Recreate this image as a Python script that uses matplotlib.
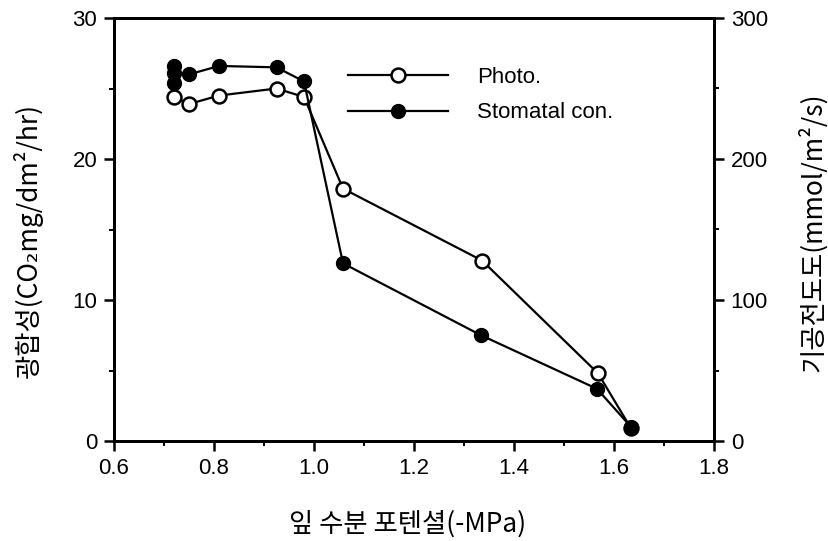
import matplotlib
matplotlib.use("Agg")
import matplotlib.pyplot as plt
from matplotlib.ticker import MultipleLocator
from matplotlib.lines import Line2D

# Leaf water potential (-MPa)
photo_x = [0.72, 0.75, 0.81, 0.925, 0.98, 1.058, 1.336, 1.568, 1.634]
# Photosynthesis (CO2 mg/dm2/hr)
photo_y = [24.4, 23.9, 24.5, 25.0, 24.4, 17.9, 12.8, 4.8, 0.9]

stoma_x = [0.72, 0.72, 0.72, 0.75, 0.81, 0.925, 0.98, 1.058, 1.334, 1.566, 1.634]
# Stomatal conductance (mmol/m2/s)
stoma_y = [254, 266, 261, 260, 266, 265, 255, 126, 75, 37, 10]

xticks = [0.6, 0.8, 1.0, 1.2, 1.4, 1.6, 1.8]
left_ticks = [0, 10, 20, 30]
right_ticks = [0, 100, 200, 300]

num_font = "Liberation Sans"
kor_font = ["Noto Sans CJK KR", "DejaVu Sans"]

fig = plt.figure(figsize=(8.29, 5.41), dpi=100)
ax = fig.add_axes([114 / 829, 1 - 441 / 541, 600 / 829, 423 / 541])
ax2 = ax.twinx()

ax.plot(photo_x, photo_y, color="black", lw=1.6, marker="o", ms=10,
        mfc="white", mec="black", mew=1.8, zorder=3)
ax2.plot(stoma_x, stoma_y, color="black", lw=1.6, marker="o", ms=10,
         mfc="black", mec="black", zorder=3)

ax.set_xlim(0.6, 1.8)
ax.set_ylim(0, 30)
ax2.set_ylim(0, 300)

ax.set_xticks(xticks)
ax.set_xticklabels([f"{v:.1f}" for v in xticks])
ax.xaxis.set_minor_locator(MultipleLocator(0.1))
ax.set_yticks(left_ticks)
ax.yaxis.set_minor_locator(MultipleLocator(5))
ax2.set_yticks(right_ticks)
ax2.yaxis.set_minor_locator(MultipleLocator(50))

for a in (ax, ax2):
    for s in a.spines.values():
        s.set_linewidth(2.0)
    a.tick_params(which="major", direction="out", length=7, width=1.8,
                  labelsize=16, pad=5)
    a.tick_params(which="minor", direction="out", length=3.5, width=1.4)
    for lab in a.get_xticklabels() + a.get_yticklabels():
        lab.set_fontfamily(num_font)

ax.set_xlabel("잎 수분 포텐셜(-MPa)", family=kor_font, fontsize=19)
ax.xaxis.set_label_coords(0.49, -0.163)
ax.set_ylabel("광합성(CO₂mg/dm²/hr)", family=kor_font, fontsize=19)
ax.yaxis.set_label_coords(-0.118, 0.473)
ax2.set_ylabel("기공전도도(mmol/m²/s)", family=kor_font, fontsize=19)
ax2.yaxis.set_label_coords(1.14, 0.494)

handles = [
    Line2D([], [], color="black", lw=1.6, marker="o", ms=10, mfc="white",
           mec="black", mew=1.8),
    Line2D([], [], color="black", lw=1.6, marker="o", ms=10, mfc="black",
           mec="black"),
]
fig.legend(handles, ["Photo.", "Stomatal con."], loc="upper left",
           bbox_to_anchor=(348 / 829, 1 - 67 / 541), frameon=False,
           prop={"family": num_font, "size": 16}, handlelength=4.5,
           handletextpad=1.3, labelspacing=0.65, borderpad=0,
           borderaxespad=0)

fig.savefig("out.png", dpi=100, facecolor="white")
